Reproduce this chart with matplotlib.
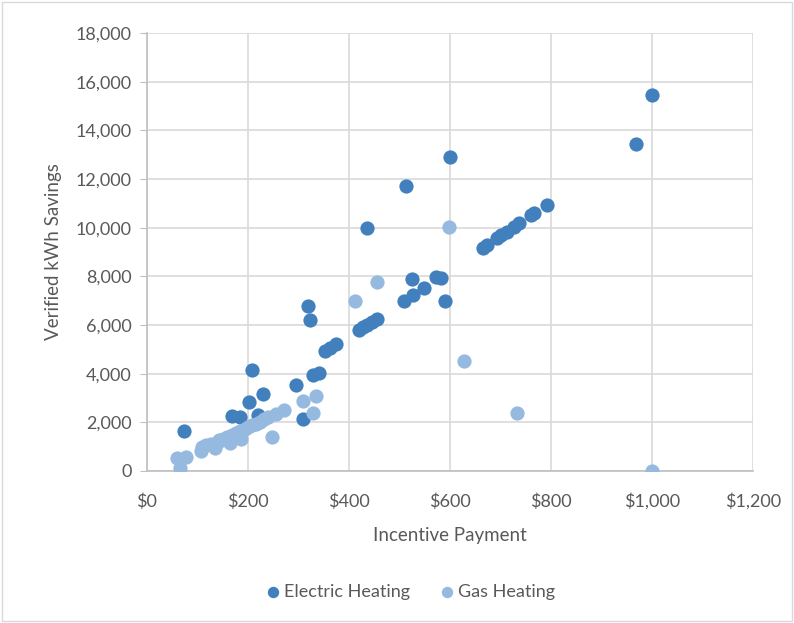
import matplotlib.pyplot as plt
from matplotlib.ticker import FuncFormatter, MultipleLocator

# incentive payment ($) and verified savings (kWh) per project
elec_pay = [73, 168, 185, 203, 208, 221, 230, 296, 310, 320, 324, 330, 340,
            353, 362, 375, 420, 428, 436, 436, 445, 456, 510, 513, 525, 527,
            548, 572, 582, 591, 600, 666, 674, 694, 702, 714, 727, 737, 761,
            767, 793, 968, 1000]
elec_kwh = [1640, 2270, 2230, 2830, 4140, 2320, 3170, 3550, 2130, 6780, 6220,
            3930, 4030, 4930, 5060, 5200, 5800, 5920, 6020, 10000, 6120, 6250,
            6990, 11700, 7890, 7220, 7510, 7970, 7940, 6980, 12900, 9150, 9280,
            9580, 9700, 9840, 10040, 10180, 10520, 10590, 10920, 13430, 15470]

gas_pay = [60, 66, 78, 108, 110, 118, 126, 134, 140, 142, 150, 158, 165,
           168, 176, 184, 186, 194, 200, 208, 216, 224, 232, 240, 248, 256,
           272, 309, 330, 335, 412, 455, 598, 628, 734, 1000]
gas_kwh = [550, 140, 560, 820, 1000, 1060, 1120, 950, 1200, 1260, 1330, 1400,
           1130, 1480, 1560, 1640, 1300, 1720, 1800, 1880, 1950, 2030, 2120,
           2200, 1400, 2360, 2500, 2880, 2400, 3080, 7000, 7760, 10030, 4530,
           2370, 0]

grey = '#595959'
plt.rcParams['font.family'] = ['Lato', 'DejaVu Sans']

fig = plt.figure(figsize=(7.94, 6.23), dpi=100)
ax = fig.add_axes([0.185, 0.244, 0.763, 0.703])

ax.scatter(elec_pay, elec_kwh, s=105, color='#4180BC', linewidths=0,
           label='Electric Heating', zorder=3)
ax.scatter(gas_pay, gas_kwh, s=105, color='#96B9E0', linewidths=0,
           label='Gas Heating', zorder=4)

ax.set_xlim(0, 1200)
ax.set_ylim(0, 18000)
ax.xaxis.set_major_locator(MultipleLocator(200))
ax.yaxis.set_major_locator(MultipleLocator(2000))
ax.xaxis.set_major_formatter(FuncFormatter(lambda v, p: f'${v:,.0f}'))
ax.yaxis.set_major_formatter(FuncFormatter(lambda v, p: f'{v:,.0f}'))

ax.grid(True, color='#D9D9D9', linewidth=1.2)
ax.set_axisbelow(True)
for side in ['top', 'right']:
    ax.spines[side].set_visible(False)
for side in ['left', 'bottom']:
    ax.spines[side].set_color('#BFBFBF')
    ax.spines[side].set_linewidth(1.2)
ax.tick_params(axis='y', length=5, color='#BFBFBF', labelcolor=grey,
               labelsize=13, pad=6)
ax.tick_params(axis='x', length=0, labelcolor=grey, labelsize=13, pad=16)

ax.set_xlabel('Incentive Payment', fontsize=13.5, color=grey, labelpad=12)
ax.set_ylabel('Verified kWh Savings', fontsize=13.5, color=grey, labelpad=10)

fig.legend(loc='center', bbox_to_anchor=(0.51, 0.05), ncol=2, frameon=False,
           fontsize=13, labelcolor=grey, handletextpad=-0.4, columnspacing=1.1,
           markerscale=0.8)

fig.patches.append(plt.Rectangle((0.003, 0.003), 0.994, 0.994,
                                 transform=fig.transFigure, fill=False,
                                 edgecolor='#D9D9D9', linewidth=1))

fig.savefig('out.png', dpi=100)
